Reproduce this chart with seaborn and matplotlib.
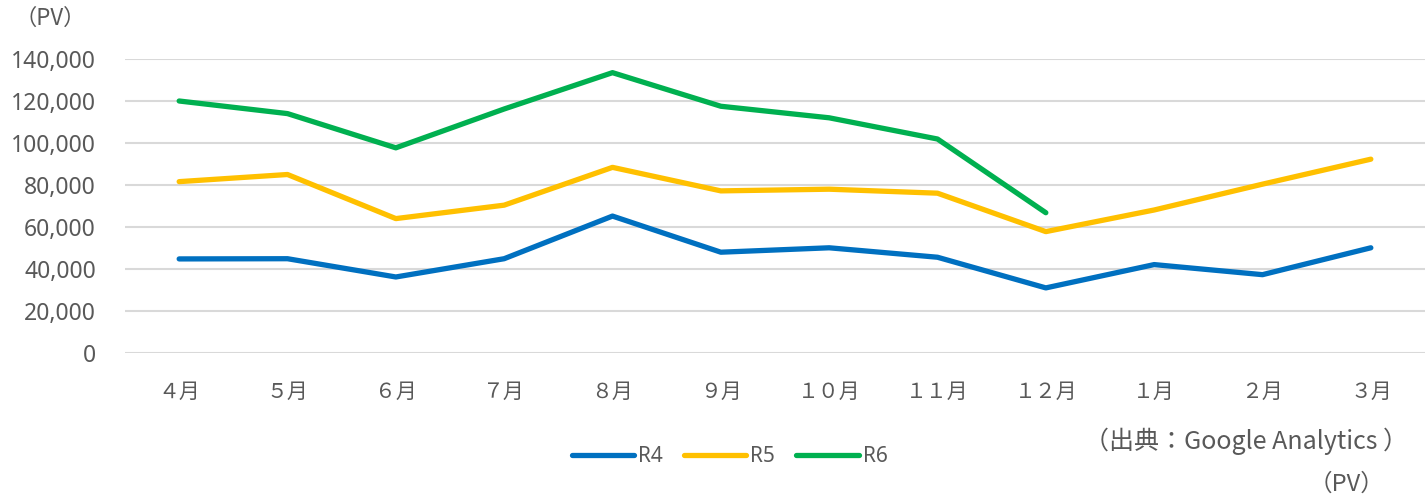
import matplotlib
matplotlib.use("Agg")
import matplotlib.pyplot as plt
import pandas as pd
import seaborn as sns

# month labels (full-width digits, as in the original)
months = ["４月", "５月", "６月", "７月", "８月", "９月",
          "１０月", "１１月", "１２月", "１月", "２月", "３月"]

# monthly page views per fiscal year
r4 = [44800, 44900, 36200, 44900, 65200, 48000, 50100, 45600, 31000, 42100, 37300, 50100]
r5 = [81600, 85000, 64000, 70400, 88400, 77200, 78000, 76100, 57800, 68100, 80400, 92300]
r6 = [120000, 114000, 97700, 116200, 133500, 117500, 112000, 101900, 66800]

series_names = ["R4", "R5", "R6"]
colors = ["#0070C0", "#FFC000", "#00B050"]

rows = []
for name, vals in zip(series_names, [r4, r5, r6]):
    for m, v in zip(months, vals):
        rows.append({"month": m, "pv": v, "year": name})
df = pd.DataFrame(rows)

sns.set_style("white")
plt.rcParams["font.family"] = ["Noto Sans CJK JP", "DejaVu Sans"]
gray = "#595959"
latin = ["Noto Sans", "DejaVu Sans"]

fig = plt.figure(figsize=(14.25, 4.95), dpi=100)
ax = fig.add_axes([125 / 1425, 142 / 495, 1300 / 1425, 294 / 495])

sns.lineplot(data=df, x="month", y="pv", hue="year", palette=colors,
             linewidth=3.8, sort=False, ax=ax, legend=False)
for ln in ax.lines:
    ln.set_solid_capstyle("round")
    ln.set_solid_joinstyle("round")

ax.set_xlim(-0.5, 11.5)
ax.set_ylim(0, 140000)
ax.set_yticks(range(0, 140001, 20000))
ax.set_yticklabels([f"{v:,}" for v in range(0, 140001, 20000)],
                   fontsize=16.5, color=gray, family=latin)
ax.set_xticks(range(len(months)))
ax.set_xticklabels(months, fontsize=15, color=gray)
ax.tick_params(axis="y", length=0, pad=21)
ax.tick_params(axis="x", length=0, pad=20)
ax.yaxis.grid(True, color="#D9D9D9", linewidth=1.5)
ax.set_axisbelow(True)
for s in ax.spines.values():
    s.set_visible(False)
ax.set_xlabel("")
ax.set_ylabel("")

# legend
handles = [plt.Line2D([], [], color=c, linewidth=3.8, solid_capstyle="round")
           for c in colors]
fig.legend(handles, series_names, loc="center", bbox_to_anchor=(0.512, 0.077),
           ncol=3, frameon=False, handlelength=3.0, handletextpad=0.2,
           columnspacing=1.0, prop={"family": latin, "size": 15},
           labelcolor=gray)

fig.text(50 / 1425, 1 - 18 / 495, "（PV）", fontsize=16, color=gray,
         ha="center", va="center")
fig.text(1408 / 1425, 1 - 441 / 495, "（出典：Google Analytics ）", fontsize=18,
         color=gray, ha="right", va="center")
fig.text(1384 / 1425, 1 - 484 / 495, "（PV）", fontsize=17, color=gray,
         ha="right", va="center")

fig.savefig("out.png", dpi=100)
